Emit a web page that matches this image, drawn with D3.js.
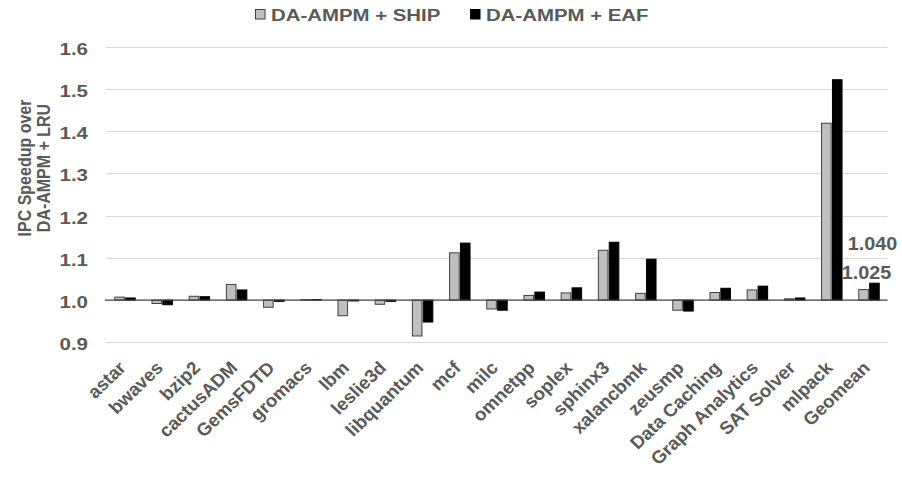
<!DOCTYPE html>
<html>
<head>
<meta charset="utf-8">
<script src="https://cdn.jsdelivr.net/npm/d3@7"></script>
<style>
  html, body { margin: 0; padding: 0; background: #fff; }
  svg { display: block; font-family: "Liberation Sans", Arial, sans-serif; }
</style>
</head>
<body>
<svg id="chart" width="902" height="478"></svg>
<script>
// Benchmarks on the x axis
const categories = ["astar", "bwaves", "bzip2", "cactusADM", "GemsFDTD", "gromacs", "lbm",
  "leslie3d", "libquantum", "mcf", "milc", "omnetpp", "soplex", "sphinx3", "xalancbmk",
  "zeusmp", "Data Caching", "Graph Analytics", "SAT Solver", "mlpack", "Geomean"];

const seriesNames = ["DA-AMPM + SHIP", "DA-AMPM + EAF"];

// IPC speedup over DA-AMPM + LRU
const shipValues = [1.007, 0.992, 1.009, 1.037, 0.983, 1.001, 0.963, 0.990, 0.915, 1.112,
  0.979, 1.011, 1.017, 1.118, 1.016, 0.976, 1.018, 1.024, 1.003, 1.419, 1.025];
const eafValues = [1.005, 0.989, 1.008, 1.024, 0.997, 1.001, 0.998, 0.997, 0.948, 1.135,
  0.976, 1.019, 1.029, 1.137, 1.097, 0.974, 1.028, 1.033, 1.005, 1.522, 1.040];

const yTicks = [0.9, 1.0, 1.1, 1.2, 1.3, 1.4, 1.5, 1.6];

// Labelled geomean values
const geomeanLabels = [{ series: 1, value: 1.040, text: "1.040" },
                       { series: 0, value: 1.025, text: "1.025" }];

const seriesColors = ["#bfbfbf", "#000000"];
const seriesStrokes = ["#404040", "#000000"];
const textColor = "#595959";

const svg = d3.select("#chart");

const x0 = d3.scaleBand().domain(categories).range([106.4, 887.6]).paddingInner(0.45).paddingOuter(0.225);
const x1 = d3.scaleBand().domain(seriesNames).range([0, x0.bandwidth()]).paddingInner(0.12);
const y = d3.scaleLinear().domain([0.9, 1.6]).range([342.3, 46.8]);

// Gridlines
svg.append("g")
  .selectAll("line")
  .data(yTicks.filter(t => t !== 1.0))
  .join("line")
  .attr("x1", 106).attr("x2", 887.6)
  .attr("y1", d => Math.round(y(d)) + 0.5).attr("y2", d => Math.round(y(d)) + 0.5)
  .attr("stroke", "#d9d9d9").attr("stroke-width", 1.2);

// Y axis labels (wide bold face)
const yAxis = svg.append("g")
  .attr("transform", "translate(88,0)")
  .call(d3.axisLeft(y).tickValues(yTicks).tickFormat(d3.format(".1f")).tickSize(0).tickPadding(0));
yAxis.select(".domain").remove();
yAxis.selectAll("text")
  .attr("font-family", "Liberation Sans, Arial, sans-serif")
  .attr("font-size", 16).attr("font-weight", "bold").attr("fill", textColor)
  .attr("x", 0).attr("dy", 7.5)
  .attr("transform", "scale(1.28,1)");

// Y axis title
const yTitle = svg.append("text")
  .attr("transform", "translate(0,168) scale(1.2,1) rotate(-90)")
  .attr("text-anchor", "middle")
  .attr("font-size", 16).attr("font-weight", "bold").attr("fill", textColor);
yTitle.append("tspan").attr("x", 0).attr("y", 26).text("IPC Speedup over");
yTitle.append("tspan").attr("x", 0).attr("y", 42).text("DA-AMPM + LRU");

// Bars
const rows = categories.map((c, i) => ({ cat: c, vals: [shipValues[i], eafValues[i]] }));
const groups = svg.append("g").selectAll("g")
  .data(rows).join("g")
  .attr("transform", d => `translate(${x0(d.cat)},0)`);

groups.selectAll("rect")
  .data(d => d.vals.map((v, k) => ({ v, k })))
  .join("rect")
  .attr("x", d => x1(seriesNames[d.k]))
  .attr("width", x1.bandwidth())
  .attr("y", d => Math.min(y(d.v), y(1.0)))
  .attr("height", d => Math.abs(y(d.v) - y(1.0)))
  .attr("fill", d => seriesColors[d.k])
  .attr("stroke", d => seriesStrokes[d.k])
  .attr("stroke-width", 1);

// Baseline at 1.0
svg.append("line")
  .attr("x1", 105).attr("x2", 887.6)
  .attr("y1", y(1.0)).attr("y2", y(1.0))
  .attr("stroke", "#404040").attr("stroke-width", 1.3);

// X axis labels
svg.append("g").selectAll("text")
  .data(categories).join("text")
  .attr("transform", d => `translate(${x0(d) + x0.bandwidth() / 2 + 2},369) scale(1.04,1) rotate(-45)`)
  .attr("text-anchor", "end")
  .attr("font-size", 18).attr("font-weight", "bold").attr("fill", textColor)
  .text(d => d);

// Geomean value labels
const gx = x0("Geomean");
svg.append("g").selectAll("text")
  .data(geomeanLabels).join("text")
  .attr("transform", d => {
    const cx = gx + x1(seriesNames[d.series]) + x1.bandwidth() / 2 + (d.series === 0 ? 3 : -2);
    const by = y(d.value) - (d.series === 0 ? 11 : 33);
    return `translate(${cx},${by}) scale(1.1,1)`;
  })
  .attr("text-anchor", "middle")
  .attr("font-size", 18).attr("font-weight", "bold").attr("fill", textColor)
  .text(d => d.text);

// Legend
const legend = svg.append("g");
const legendItems = [{ x: 255, name: seriesNames[0], k: 0 }, { x: 470, name: seriesNames[1], k: 1 }];
legendItems.forEach(it => {
  legend.append("rect").attr("x", it.x + 0.5).attr("y", 9.5).attr("width", 9.5).attr("height", 9.5)
    .attr("fill", seriesColors[it.k]).attr("stroke", seriesStrokes[it.k]);
  legend.append("text")
    .attr("transform", `translate(${it.x + 16},20.7) scale(1.2,1)`)
    .attr("font-size", 17).attr("font-weight", "bold").attr("fill", textColor)
    .text(it.name);
});
</script>
</body>
</html>
